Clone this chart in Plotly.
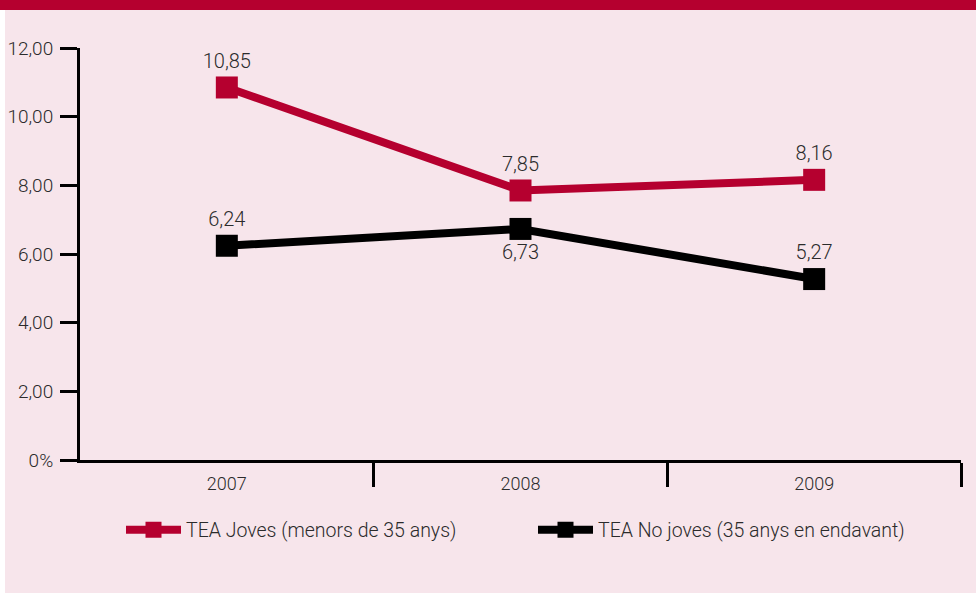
import plotly.graph_objects as go

years = ["2007", "2008", "2009"]
joves = [10.85, 7.85, 8.16]
no_joves = [6.24, 6.73, 5.27]
joves_pos = ["top center", "top center", "top center"]
no_joves_pos = ["top center", "bottom center", "top center"]
y_tickvals = [0, 2, 4, 6, 8, 10, 12]
y_ticktext = ["0%", "2,00", "4,00", "6,00", "8,00", "10,00", "12,00"]
name_joves = "TEA Joves (menors de 35 anys)"
name_no = "TEA No joves (35 anys en endavant)"

RED = "#b5002f"
BLACK = "#000000"
PINK = "#f7e5eb"
TXT = "#2b2b2b"
FONT = "Roboto"
FS = 19

W, H = 976, 595
L, R, T, B = 80, 15, 48, 135
pw, ph = W - L - R, H - T - B

def px_x(x):
    return (x - L) / pw

def px_y(y):
    return (H - B - y) / ph

xs = list(range(len(years)))

fig = go.Figure()
fig.add_trace(go.Scatter(
    x=xs, y=joves, name=name_joves, mode="lines+markers+text", legend="legend",
    line=dict(color=RED, width=8),
    marker=dict(symbol="square", size=22, color=RED),
    texttemplate="%{y:.2f}", textposition=joves_pos,
    textfont=dict(family=FONT, size=FS + 1, color=TXT, weight=300),
))
fig.add_trace(go.Scatter(
    x=xs, y=no_joves, name=name_no, mode="lines+markers+text", legend="legend2",
    line=dict(color=BLACK, width=8),
    marker=dict(symbol="square", size=22, color=BLACK),
    texttemplate="%{y:.2f}", textposition=no_joves_pos,
    textfont=dict(family=FONT, size=FS + 1, color=TXT, weight=300),
))
# invisible trace to carry the category labels on a second x axis
fig.add_trace(go.Scatter(x=xs, y=joves, xaxis="x2", mode="markers",
                         marker=dict(opacity=0), showlegend=False, hoverinfo="skip"))

legend_common = dict(orientation="h", xanchor="left", y=px_y(530), yanchor="middle",
                     itemwidth=55,
                     font=dict(family=FONT, size=FS + 0.5, color=TXT, weight=300),
                     bgcolor="rgba(0,0,0,0)")

fig.update_layout(
    width=W, height=H,
    margin=dict(l=L, r=R, t=T, b=B, autoexpand=False),
    paper_bgcolor=PINK, plot_bgcolor="rgba(0,0,0,0)",
    separators=",.",
    font=dict(family=FONT, size=FS, color=TXT, weight=300),
    xaxis=dict(range=[-0.5, 2.5], tickvals=[0.5, 1.5, 2.5], ticktext=["", "", ""],
               ticks="outside", ticklen=24, tickwidth=3, tickcolor=BLACK,
               showline=True, linewidth=3, linecolor=BLACK, automargin=False,
               showgrid=False, zeroline=False),
    xaxis2=dict(range=[-0.5, 2.5], overlaying="x", side="bottom", anchor="y",
                tickvals=xs, ticktext=years, ticks="outside", ticklen=7,
                tickcolor="rgba(0,0,0,0)", showline=False, showgrid=False, automargin=False,
                zeroline=False, tickfont=dict(family=FONT, size=FS - 1, color=TXT, weight=300)),
    yaxis=dict(range=[0, 12], tickvals=y_tickvals, ticktext=y_ticktext,
               ticks="outside", ticklen=17, tickwidth=3, tickcolor=BLACK,
               showline=True, linewidth=3, linecolor=BLACK, automargin=False,
               showgrid=False, zeroline=False, ticklabelstandoff=3,
               tickfont=dict(family=FONT, size=FS, color=TXT, weight=300)),
    legend=dict(x=px_x(121), **legend_common),
    legend2=dict(x=px_x(533), **legend_common),
    showlegend=True,
    shapes=[
        dict(type="rect", xref="paper", yref="paper", layer="below",
             x0=px_x(0), x1=px_x(W), y0=px_y(10), y1=px_y(0), fillcolor=RED, line=dict(width=0)),
        dict(type="rect", xref="paper", yref="paper", layer="below",
             x0=px_x(0), x1=px_x(5), y0=px_y(H), y1=px_y(10), fillcolor="white", line=dict(width=0)),
        dict(type="rect", xref="paper", yref="paper", layer="below",
             x0=px_x(0), x1=px_x(W), y0=px_y(H), y1=px_y(593), fillcolor="white", line=dict(width=0)),
    ],
)

fig.write_html("out.html", config={"displayModeBar": False},
               post_script="document.body.style.margin='0';document.body.style.overflow='hidden';")
